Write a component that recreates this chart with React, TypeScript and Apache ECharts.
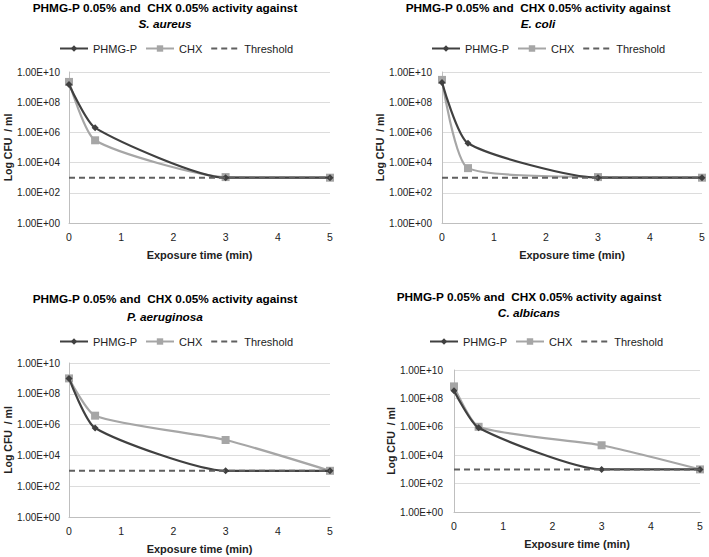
import React, { useEffect, useRef } from "react";
import * as echarts from "echarts";

// ---- data ----
const timeMin = [0, 0.5, 3, 5];
const thresholdTime = [0, 5];
const thresholdCFU = [1e3, 1e3];

const aureusPHMG = [1.5e9, 2e6, 1e3, 1e3];
const aureusCHX = [2.2e9, 3e5, 1.1e3, 1e3];
const coliPHMG = [2e9, 1.9e5, 1e3, 1e3];
const coliCHX = [3e9, 4.3e3, 1.1e3, 1e3];
const aeruPHMG = [1e9, 6e5, 1e3, 1e3];
const aeruCHX = [1e9, 3.8e6, 1e5, 1e3];
const albiPHMG = [3.5e8, 8.5e5, 1e3, 1e3];
const albiCHX = [7e8, 1e6, 5e4, 1e3];

const organisms = ["S. aureus", "E. coli", "P. aeruginosa", "C. albicans"];
const titleLine = "PHMG-P 0.05% and  CHX 0.05% activity against";
const seriesNames = ["PHMG-P", "CHX", "Threshold"];
const xTickLabels = ["0", "1", "2", "3", "4", "5"];
const yTickLabels = ["1.00E+00", "1.00E+02", "1.00E+04", "1.00E+06", "1.00E+08", "1.00E+10"];
const xAxisTitle = "Exposure time (min)";
const yAxisTitle = "Log CFU  / ml";

const panelData = [
  [aureusPHMG, aureusCHX],
  [coliPHMG, coliCHX],
  [aeruPHMG, aeruCHX],
  [albiPHMG, albiCHX],
];

// ---- layout ----
const grids = [
  { left: 69, top: 72, width: 261, height: 151 },
  { left: 442, top: 72, width: 260, height: 151 },
  { left: 69, top: 363, width: 261, height: 154 },
  { left: 454, top: 370, width: 246, height: 142 },
];
const titlePos = [
  { x: 165, y1: 8, y2: 24 },
  { x: 538, y1: 8, y2: 24 },
  { x: 165, y1: 299, y2: 317 },
  { x: 529, y1: 297, y2: 313 },
];
const legendPos = [
  { left: 54, top: 38 },
  { left: 426, top: 38 },
  { left: 54, top: 331 },
  { left: 424, top: 331 },
];
const yNameGap = [56, 54, 56, 56];
const yLabelMargin = [9, 10, 9, 11];

const FONT = "'Liberation Sans', Arial, sans-serif";
const C_PHMG = "#404040";
const C_CHX = "#a6a6a6";
const C_THR = "#606060";

const lg = (v: number) => Math.log10(v);

export default function App() {
  const ref = useRef<HTMLDivElement>(null);
  useEffect(() => {
    document.body.style.margin = "0";
    const chart = echarts.init(ref.current!, null, { renderer: "svg" });

    const graphic: any[] = [];
    titlePos.forEach((p, i) => {
      graphic.push({
        type: "text",
        x: p.x,
        y: p.y1,
        style: {
          text: titleLine,
          textAlign: "center",
          textVerticalAlign: "middle",
          font: `bold 11.8px ${FONT}`,
          fill: "#000",
        },
      });
      graphic.push({
        type: "text",
        x: p.x,
        y: p.y2,
        style: {
          text: organisms[i],
          textAlign: "center",
          textVerticalAlign: "middle",
          font: `italic bold 11.8px ${FONT}`,
          fill: "#000",
        },
      });
    });

    const xAxis: any[] = [];
    const yAxis: any[] = [];
    const series: any[] = [];
    const legend: any[] = [];

    grids.forEach((g, i) => {
      xAxis.push({
        type: "value",
        gridIndex: i,
        min: 0,
        max: 5,
        interval: 1,
        name: xAxisTitle,
        nameLocation: "middle",
        nameGap: 26,
        nameTextStyle: { fontFamily: FONT, fontWeight: "bold", fontSize: 11, color: "#222" },
        axisLine: { show: true, onZero: false, lineStyle: { color: "#bfbfbf", width: 1 } },
        axisTick: { show: false },
        splitLine: { show: false },
        axisLabel: {
          margin: 8,
          fontFamily: FONT,
          fontSize: 10.5,
          color: "#222",
          formatter: (v: number) => xTickLabels[Math.round(v)] ?? "",
        },
      });
      yAxis.push({
        type: "value",
        gridIndex: i,
        min: 0,
        max: 10,
        interval: 2,
        name: yAxisTitle,
        nameLocation: "middle",
        nameGap: yNameGap[i],
        nameRotate: 90,
        nameTextStyle: { fontFamily: FONT, fontWeight: "bold", fontSize: 10.5, color: "#222" },
        axisLine: { show: true, lineStyle: { color: "#bfbfbf", width: 1 } },
        axisTick: { show: false },
        splitLine: { show: true, lineStyle: { color: "#dcdcdc", width: 1 } },
        axisLabel: {
          margin: yLabelMargin[i],
          fontFamily: FONT,
          fontSize: 10,
          color: "#222",
          formatter: (v: number) => yTickLabels[Math.round(v / 2)] ?? "",
        },
      });
      const [phmg, chx] = panelData[i];
      series.push({
        name: seriesNames[0],
        type: "line",
        xAxisIndex: i,
        yAxisIndex: i,
        smooth: 0.2,
        data: timeMin.map((t, k) => [t, lg(phmg[k])]),
        symbol: "diamond",
        symbolSize: 7,
        itemStyle: { color: C_PHMG },
        lineStyle: { color: C_PHMG, width: 2.2 },
        z: 3,
      });
      series.push({
        name: seriesNames[1],
        type: "line",
        xAxisIndex: i,
        yAxisIndex: i,
        smooth: 0.2,
        data: timeMin.map((t, k) => [t, lg(chx[k])]),
        symbol: "rect",
        symbolSize: 8,
        itemStyle: { color: C_CHX },
        lineStyle: { color: C_CHX, width: 2.2 },
        z: 2,
      });
      series.push({
        name: seriesNames[2],
        type: "line",
        xAxisIndex: i,
        yAxisIndex: i,
        data: thresholdTime.map((t, k) => [t, lg(thresholdCFU[k])]),
        symbol: "none",
        lineStyle: { color: C_THR, width: 2, type: [6, 4] },
        itemStyle: { color: C_THR },
        z: 4,
      });
      legend.push({
        left: legendPos[i].left,
        top: legendPos[i].top,
        data: [
          { name: seriesNames[0] },
          { name: seriesNames[1] },
          { name: seriesNames[2], itemStyle: { opacity: 0 } },
        ],
        itemWidth: 28,
        itemHeight: 8,
        itemGap: 8,
        selectedMode: false,
        textStyle: { fontFamily: FONT, fontSize: 11, color: "#222" },
      });
    });

    chart.setOption({
      animation: false,
      backgroundColor: "#fff",
      grid: grids.map((g) => ({ ...g, containLabel: false })),
      xAxis,
      yAxis,
      series,
      legend,
      graphic,
    });
    return () => chart.dispose();
  }, []);
  return <div ref={ref} style={{ width: 709, height: 557 }} />;
}
